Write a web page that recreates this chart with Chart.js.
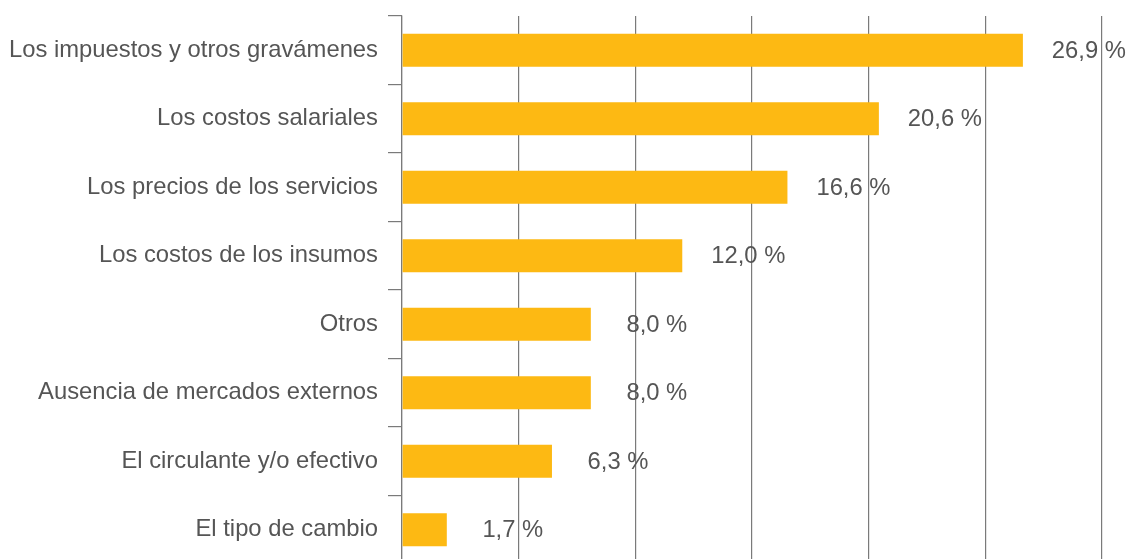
<!DOCTYPE html>
<html>
<head>
<meta charset="utf-8">
<script src="https://cdn.jsdelivr.net/npm/chart.js@4/dist/chart.umd.min.js"></script>
<style>
  html, body { margin: 0; padding: 0; background: #fff; overflow: hidden; }
  #wrap { width: 1128px; height: 564px; }
</style>
</head>
<body>
<div id="wrap"><canvas id="c" width="1128" height="564"></canvas></div>
<script>
const categories = [
  "Los impuestos y otros gravámenes",
  "Los costos salariales",
  "Los precios de los servicios",
  "Los costos de los insumos",
  "Otros",
  "Ausencia de mercados externos",
  "El circulante y/o efectivo",
  "El tipo de cambio"
];
const values = [26.9, 20.6, 16.6, 12.0, 8.0, 8.0, 6.3, 1.7];

const X_MIN = -0.26;
const X_MAX = 30.36;
const GRID_DIVISIONS = 6;

const FONT = "'Liberation Sans', Arial, Helvetica, sans-serif";
const TEXT_COLOR = "#555555";
const LINE_COLOR = "#7a7a7a";

function fmt(v) { return v.toFixed(1).replace('.', ',') + ' %'; }

const valueLabelPlugin = {
  id: 'valueLabels',
  afterDatasetsDraw(chart) {
    const ctx = chart.ctx;
    const meta = chart.getDatasetMeta(0);
    ctx.save();
    ctx.font = "23.8px " + FONT;
    ctx.fillStyle = TEXT_COLOR;
    ctx.textAlign = 'center';
    ctx.textBaseline = 'middle';
    meta.data.forEach((bar, i) => {
      ctx.fillText(fmt(values[i]), bar.x + 66, bar.y + 1);
    });
    ctx.restore();
  }
};

new Chart(document.getElementById('c'), {
  type: 'bar',
  data: {
    labels: categories,
    datasets: [{
      data: values,
      backgroundColor: '#FDB913',
      borderWidth: 0,
      base: X_MIN,
      barPercentage: 0.482,
      categoryPercentage: 1.0
    }]
  },
  options: {
    indexAxis: 'y',
    responsive: false,
    animation: false,
    layout: { autoPadding: false, padding: { top: 16, right: 26, left: 0, bottom: 0 } },
    plugins: { legend: { display: false }, tooltip: { enabled: false } },
    scales: {
      x: {
        type: 'linear',
        min: X_MIN,
        max: X_MAX,
        afterBuildTicks(scale) {
          const t = [];
          for (let k = 0; k <= GRID_DIVISIONS; k++) {
            t.push({ value: X_MIN + (X_MAX - X_MIN) * k / GRID_DIVISIONS });
          }
          scale.ticks = t;
        },
        afterFit(scale) { scale.height = 0; scale.paddingLeft = 0; scale.paddingRight = 0; },
        ticks: { display: false },
        border: { display: false },
        grid: { color: LINE_COLOR, lineWidth: 1.2, drawTicks: false }
      },
      y: {
        afterFit(scale) { scale.width = 402; scale.paddingTop = 0; scale.paddingBottom = 0; },
        ticks: {
          color: TEXT_COLOR,
          font: { family: FONT, size: 23.8 },
          padding: 10
        },
        border: { display: true, color: LINE_COLOR, width: 1.2 },
        grid: {
          display: true,
          drawOnChartArea: false,
          drawTicks: true,
          tickLength: 14,
          color: LINE_COLOR,
          lineWidth: 1.2,
          offset: true
        }
      }
    }
  },
  plugins: [valueLabelPlugin]
});
</script>
</body>
</html>
